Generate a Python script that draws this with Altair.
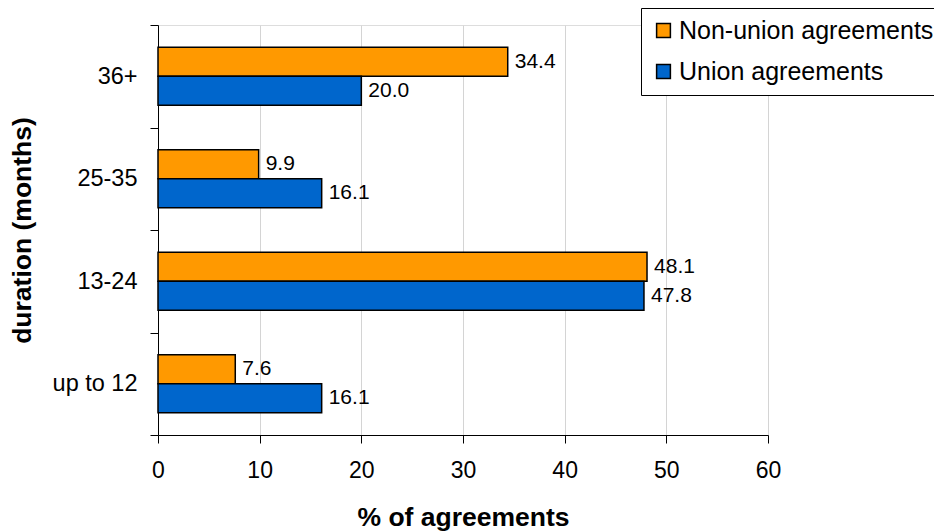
import altair as alt
import pandas as pd

categories = ["36+", "25-35", "13-24", "up to 12"]
series = ["Non-union agreements", "Union agreements"]
non_union = [34.4, 9.9, 48.1, 7.6]
union = [20.0, 16.1, 47.8, 16.1]
colors = ["#FF9900", "#0066CC"]

rows = []
for c, nu, u in zip(categories, non_union, union):
    rows.append({"duration": c, "series": series[0], "value": nu})
    rows.append({"duration": c, "series": series[1], "value": u})
df = pd.DataFrame(rows)

FONT = "Liberation Sans"

y_enc = alt.Y(
    "duration:N",
    sort=categories,
    scale=alt.Scale(paddingInner=0, paddingOuter=0),
    axis=alt.Axis(
        title="duration (months)",
        titleFont=FONT, titleFontSize=26.5, titleFontWeight="bold", titleColor="black",
        titlePadding=16,
        labelFont=FONT, labelFontSize=23.5, labelColor="black", labelPadding=13,
        tickBand="extent", tickSize=8, tickColor="black",
        domainColor="black", grid=False,
    ),
)
yoff = alt.YOffset("series:N", sort=series,
                   scale=alt.Scale(paddingInner=0, paddingOuter=0.767))

bars = alt.Chart(df).mark_bar(stroke="black", strokeWidth=1.5).encode(
    x=alt.X(
        "value:Q",
        scale=alt.Scale(domain=[0, 60], nice=False),
        axis=alt.Axis(
            title="% of agreements", values=[0, 10, 20, 30, 40, 50, 60],
            titleFont=FONT, titleFontSize=26.5, titleFontWeight="bold", titleColor="black",
            titlePadding=22,
            labelFont=FONT, labelFontSize=23, labelColor="black", labelPadding=16,
            labelFlush=False, labelOverlap=False,
            tickSize=8, tickColor="black", domainColor="black",
            grid=True, gridColor="#d4d4d4", gridWidth=1,
        ),
    ),
    y=y_enc,
    yOffset=yoff,
    color=alt.Color(
        "series:N",
        sort=series,
        scale=alt.Scale(domain=series, range=colors),
        legend=alt.Legend(
            title=None, orient="none", legendX=483, legendY=-17,
            symbolType="square", symbolSize=190, symbolStrokeColor="black",
            symbolStrokeWidth=1.5, symbolOpacity=1,
            labelFont=FONT, labelFontSize=25, labelColor="black", labelLimit=400,
            rowPadding=15, padding=10, strokeColor="black", fillColor="white",
            labelOffset=3,
        ),
    ),
)

labels = alt.Chart(df).mark_text(
    align="left", baseline="middle", dx=7, font=FONT, fontSize=21, color="black"
).encode(
    x="value:Q",
    y=alt.Y("duration:N", sort=categories),
    yOffset=yoff,
    text=alt.Text("value:Q", format=".1f"),
)

chart = (
    (bars + labels)
    .properties(
        width=610, height=410,
        autosize=alt.AutoSizeParams(type="none"),
        padding={"left": 158, "top": 25, "right": 166, "bottom": 96},
    )
    .configure_view(stroke="black", strokeWidth=1)
    .configure(background="white")
)

chart.save("out.html", embed_options={"renderer": "svg", "actions": False})
